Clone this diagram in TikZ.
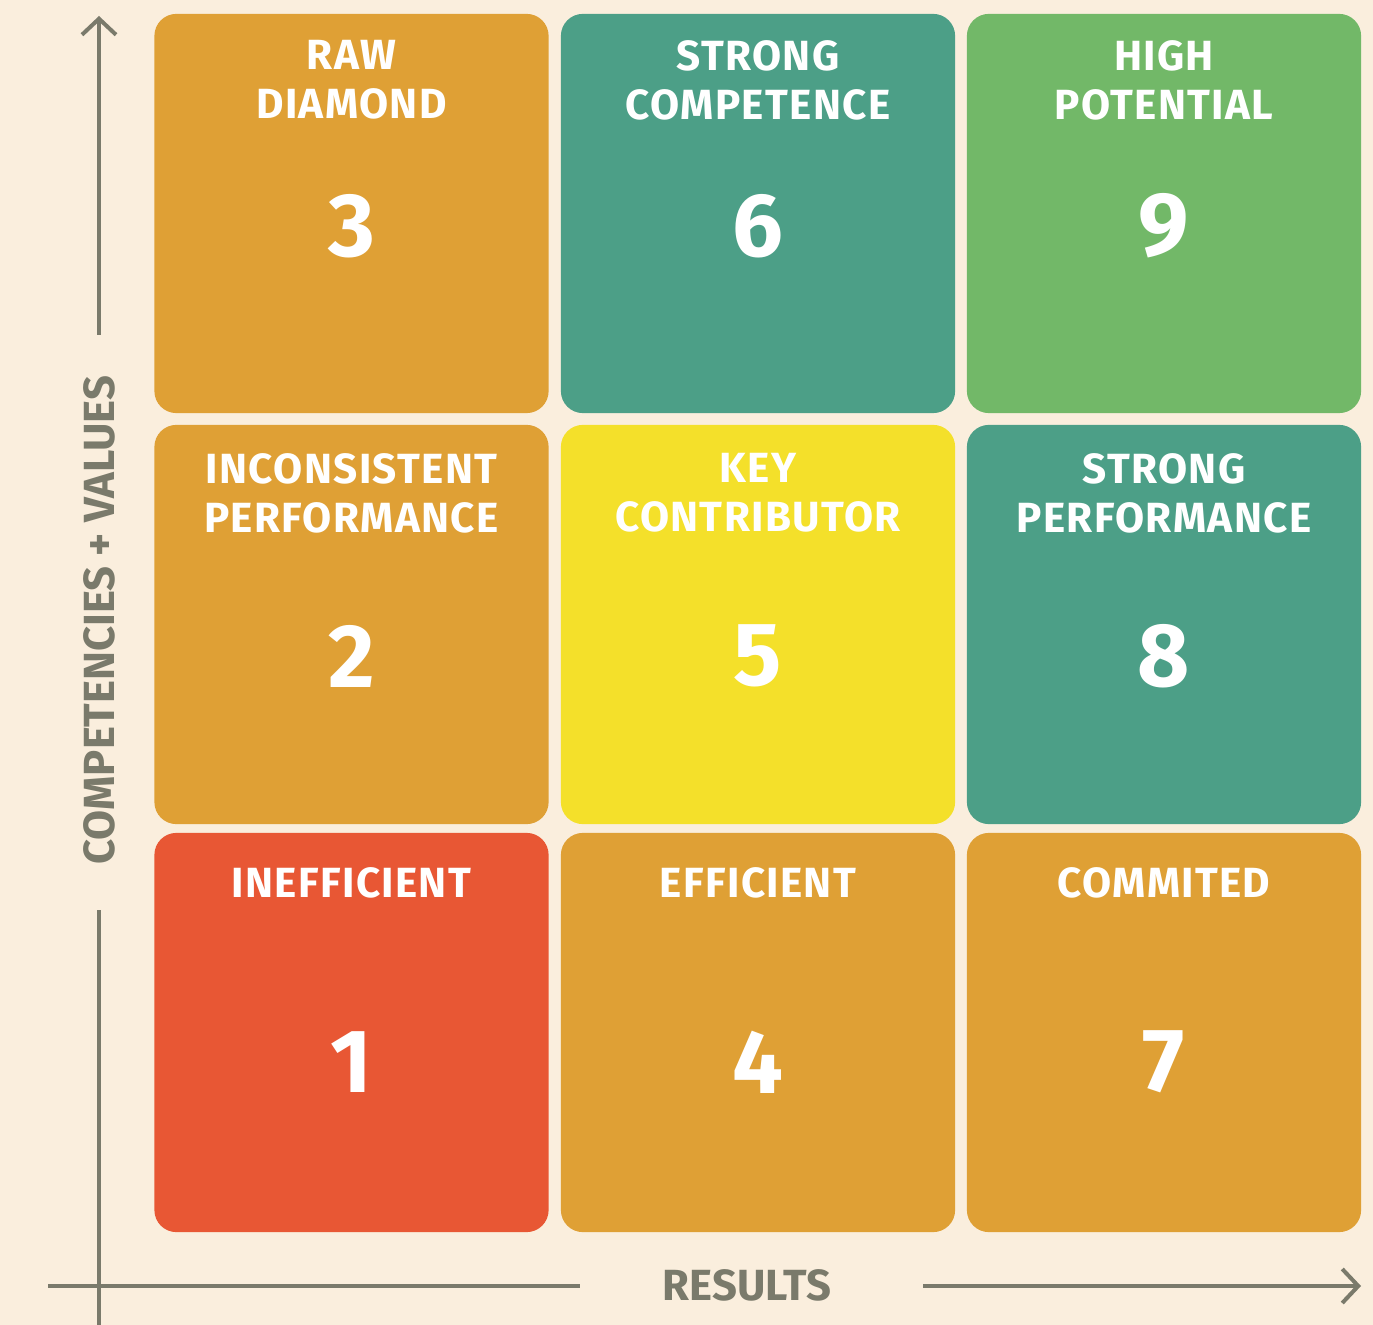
\documentclass[tikz,border=0pt]{standalone}
\usepackage{fontspec}
\setmainfont{Fira Sans}
\newfontfamily\cellfont[LetterSpace=3.2]{Fira Sans}
\newfontfamily\axisfont{Fira Sans}
\usetikzlibrary{arrows.meta}
\definecolor{paper}{RGB}{250, 238, 221}
\definecolor{gridorange}{RGB}{223, 160, 53}
\definecolor{gridteal}{RGB}{76, 159, 135}
\definecolor{gridgreen}{RGB}{114, 184, 104}
\definecolor{gridyellow}{RGB}{244, 224, 42}
\definecolor{gridred}{RGB}{232, 87, 52}
\definecolor{axisgray}{RGB}{122, 122, 107}
\tikzset{
  cell/.style={rectangle, rounded corners=0.22cm, minimum width=3.94cm,
               minimum height=3.99cm, inner sep=0pt},
  celltitle/.style={text=white, font=\cellfont\bfseries\fontsize{12}{13.9}\selectfont,
                    align=center, anchor=north, inner sep=0pt},
  score/.style={text=white, font=\bfseries\fontsize{25.6}{28}\selectfont, inner sep=0pt},
  axisline/.style={axisgray, line width=0.04cm},
  axisarrow/.style={axisline, -{Straight Barb[length=1.6mm, width=3.4mm, line width=0.04cm]}},
  axislabel/.style={text=axisgray, font=\axisfont\bfseries\fontsize{12.4}{14}\selectfont, inner sep=0pt}
}

\begin{document}
\begin{tikzpicture}[x=0.01cm, y=-0.01cm]

% Paper
\fill[paper] (0,0) rectangle (1373,1325);
\useasboundingbox (0,0) rectangle (1373,1325);

% Top row
\node[cell, fill=gridorange] (rawdiamond) at (351.5,213.5) {};
\node[cell, fill=gridteal] (strongcomp) at (758,213.5) {};
\node[cell, fill=gridgreen] (highpot) at (1164,213.5) {};
\node[celltitle] (rawdiamondtitle) at (351.5,40) {RAW\\DIAMOND};
\node[celltitle] (strongcomptitle) at (758,40) {STRONG\\COMPETENCE};
\node[celltitle] (highpottitle) at (1164,40) {HIGH\\POTENTIAL};
\node[score] (rawdiamondscore) at (351.5,226) {3};
\node[score] (strongcompscore) at (758,226) {6};
\node[score] (highpotscore) at (1164,226) {9};

% Middle row
\node[cell, fill=gridorange] (inconsistent) at (351.5,624.5) {};
\node[cell, fill=gridyellow] (keycontrib) at (758,624.5) {};
\node[cell, fill=gridteal] (strongperf) at (1164,624.5) {};
\node[celltitle] (inconsistenttitle) at (351.5,453) {INCONSISTENT\\PERFORMANCE};
\node[celltitle] (keycontribtitle) at (758,453) {KEY\\CONTRIBUTOR};
\node[celltitle] (strongperftitle) at (1164,453) {STRONG\\PERFORMANCE};
\node[score] (inconsistentscore) at (351.5,656) {2};
\node[score] (keycontribscore) at (758,656) {5};
\node[score] (strongperfscore) at (1164,656) {8};

% Bottom row
\node[cell, fill=gridred] (inefficient) at (351.5,1032.5) {};
\node[cell, fill=gridorange] (efficient) at (758,1032.5) {};
\node[cell, fill=gridorange] (commited) at (1164,1032.5) {};
\node[celltitle] (inefficienttitle) at (351.5,867) {INEFFICIENT};
\node[celltitle] (efficienttitle) at (758,867) {EFFICIENT};
\node[celltitle] (commitedtitle) at (1164,867) {COMMITED};
\node[score] (inefficientscore) at (351.5,1062) {1};
\node[score] (efficientscore) at (758,1062) {4};
\node[score] (commitedscore) at (1164,1062) {7};

% Axes with their labels set into the lines
\node[axislabel, rotate=90] (ylabel) at (99,620) {COMPETENCIES + VALUES};
\node[axislabel] (xlabel) at (747,1285) {RESULTS};
\coordinate (ybottom) at (99,1325);
\coordinate (ylow) at (99,910);
\coordinate (yhigh) at (99,335);
\coordinate (ytop) at (99,16);
\coordinate (xleft) at (48,1286);
\coordinate (xlow) at (580,1286);
\coordinate (xhigh) at (923,1286);
\coordinate (xright) at (1361,1286);

\draw[axisline] (ybottom) -- (ylow);
\draw[axisarrow] (yhigh) -- (ytop);
\draw[axisline] (xleft) -- (xlow);
\draw[axisarrow] (xhigh) -- (xright);

\end{tikzpicture}
\end{document}
